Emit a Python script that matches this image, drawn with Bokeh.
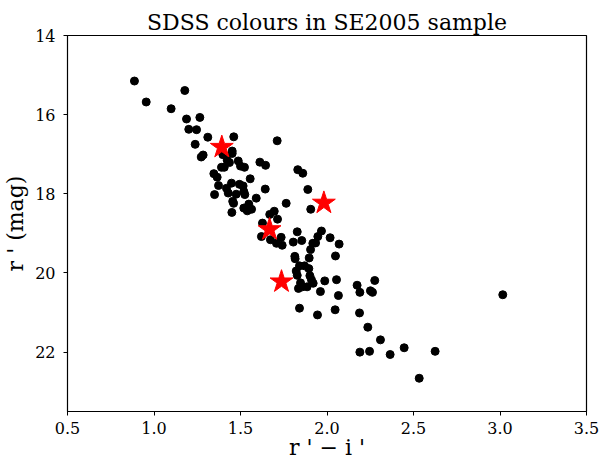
from bokeh.plotting import figure
from bokeh.models import FixedTicker, Range1d, NumeralTickFormatter
from bokeh.embed import file_html
from bokeh.resources import INLINE

# r'-i' colour and r' magnitude of the sample (black dots)
ri = [0.887, 0.955, 1.099, 1.178, 1.188, 1.265, 1.201, 1.246, 1.311, 1.461,
      1.238, 1.712, 1.273, 1.284, 1.398, 1.452, 1.452, 1.423, 1.436, 1.487,
      1.500, 1.523, 1.390, 1.406, 1.612, 1.645, 1.346, 1.365, 1.556, 1.831,
      1.860, 1.448, 1.373, 1.494, 1.515, 1.419, 1.429, 1.643, 1.889, 1.350,
      1.475, 1.519, 1.525, 1.591, 1.455, 1.460, 1.764, 1.906, 1.519, 1.548,
      1.564, 1.539, 1.450, 1.669, 1.695, 1.714, 1.627, 1.621, 1.673, 1.708,
      1.735, 1.741, 1.828, 1.805, 1.854, 1.968, 1.947, 2.018, 2.070, 1.918,
      1.934, 1.905, 1.814, 1.816, 1.897, 2.049, 1.841, 1.870, 1.895, 1.822,
      1.828, 1.901, 1.910, 1.920, 1.847, 1.835, 1.858, 1.885, 1.987, 1.962,
      2.055, 2.066, 2.174, 2.190, 2.276, 2.251, 2.263, 1.841, 1.945, 2.047,
      2.188, 2.236, 2.309, 2.190, 2.246, 2.365, 2.446, 2.533, 2.625, 3.016]
r_mag = [15.15, 15.68, 15.85, 15.39, 16.11, 16.07, 16.37, 16.38, 16.57, 16.56,
         16.75, 16.66, 17.07, 17.02, 17.01, 16.92, 16.98, 17.15, 17.21, 17.17,
         17.30, 17.33, 17.33, 17.33, 17.20, 17.28, 17.49, 17.58, 17.62, 17.39,
         17.48, 17.73, 17.79, 17.76, 17.80, 17.86, 17.98, 17.88, 17.89, 18.02,
         18.01, 17.94, 18.02, 18.11, 18.19, 18.24, 18.24, 18.39, 18.36, 18.26,
         18.39, 18.43, 18.47, 18.52, 18.44, 18.64, 18.74, 19.08, 19.16, 19.25,
         19.10, 19.30, 18.96, 19.22, 19.18, 18.94, 19.08, 19.11, 19.27, 19.25,
         19.24, 19.41, 19.58, 19.64, 19.62, 19.57, 19.82, 19.82, 19.89, 19.95,
         20.06, 20.07, 20.17, 20.26, 20.25, 20.39, 20.35, 20.35, 20.20, 20.47,
         20.17, 20.57, 20.31, 20.49, 20.19, 20.45, 20.49, 20.89, 21.06, 20.93,
         21.01, 21.37, 21.69, 22.00, 21.98, 22.06, 21.89, 22.66, 21.98, 20.55]

# highlighted objects (red stars)
star_ri = [1.392, 1.982, 1.668, 1.737]
star_r = [16.82, 18.23, 18.90, 20.22]

x_ticks = [0.5, 1.0, 1.5, 2.0, 2.5, 3.0, 3.5]
y_ticks = [14, 16, 18, 20, 22]

FONT = "DejaVu Serif"

p = figure(width=601, height=462, output_backend="svg", toolbar_location=None,
           x_range=Range1d(0.5, 3.5), y_range=Range1d(23.5, 14.0),
           title="SDSS colours in SE2005 sample")
p.min_border_left = 66
p.min_border_right = 15
p.min_border_top = 35
p.min_border_bottom = 48

p.title.align = "center"
p.title.text_font = FONT
p.title.text_font_size = "22px"
p.title.text_font_style = "normal"
p.title.text_color = "black"
p.title.standoff = 2

p.xgrid.visible = False
p.ygrid.visible = False
p.outline_line_color = "black"
p.outline_line_width = 1.2

p.xaxis.ticker = FixedTicker(ticks=x_ticks)
p.xaxis.formatter = NumeralTickFormatter(format="0.0")
p.yaxis.ticker = FixedTicker(ticks=y_ticks)

for ax in (p.xaxis, p.yaxis):
    ax.major_label_text_font = FONT
    ax.major_label_text_font_size = "16px"
    ax.major_label_text_color = "black"
    ax.major_label_text_line_height = 0.9
    ax.axis_label_text_font = FONT
    ax.axis_label_text_font_size = "22px"
    ax.axis_label_text_font_style = "normal"
    ax.axis_label_text_color = "black"
    ax.axis_line_color = "black"
    ax.major_tick_line_color = "black"
    ax.major_tick_out = 4
    ax.major_tick_in = 0
    ax.minor_tick_line_color = None

p.yaxis.axis_label_text_line_height = 0.9
p.xaxis.axis_label_text_line_height = 0.6

p.xaxis.axis_label = "r ' \u2212 i '"
p.yaxis.axis_label = "r ' (mag)"
p.xaxis.major_label_standoff = 6
p.xaxis.axis_label_standoff = -2
p.yaxis.major_label_standoff = 8
p.yaxis.axis_label_standoff = 4

p.scatter(ri, r_mag, size=8, color="black")
p.scatter(star_ri, star_r, marker="star", size=24, color="red")

open("out.html", "w").write(file_html(p, INLINE))
